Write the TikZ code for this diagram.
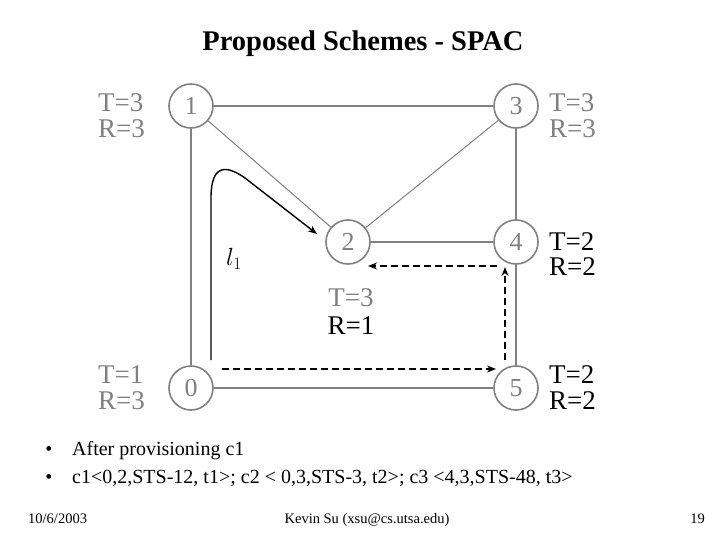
\documentclass[tikz,border=0pt]{standalone}
\usepackage{fontspec}
\setmainfont{Liberation Serif}
\usetikzlibrary{arrows.meta}
\definecolor{eg}{RGB}{128,128,128}
\begin{document}
\begin{tikzpicture}[x=1pt,y=-1pt,
  nd/.style={circle,draw=eg,line width=1.6pt,minimum size=44pt,inner sep=0pt,text=eg,font=\fontsize{26}{26}\selectfont},
  edge/.style={draw=eg,line width=2pt},
  thinedge/.style={draw=eg,line width=1pt},
  lbl/.style={inner sep=0pt,anchor=base west,font=\fontsize{27}{27}\selectfont},
  glbl/.style={lbl,text=eg},
  route/.style={black,line width=1.4pt,-{Stealth[length=9pt,width=7pt]}},
  droute/.style={route,dash pattern=on 7pt off 4pt},
  txt/.style={inner sep=0pt,anchor=base west,font=\fontsize{20}{20}\selectfont},
  foot/.style={inner sep=0pt,font=\fontsize{14.5}{14.5}\selectfont}
]
\useasboundingbox (0,0) rectangle (720,540);
\fill[white] (0,0) rectangle (720,540);

% title
\node[inner sep=0pt,anchor=base,font=\fontsize{28.5}{28.5}\selectfont\bfseries] (title) at (363,51) {Proposed Schemes - SPAC};

% nodes
\node[nd] (n1) at (191,106) {1};
\node[nd] (n3) at (516,106) {3};
\node[nd] (n2) at (348,242) {2};
\node[nd] (n4) at (516,242) {4};
\node[nd] (n0) at (191,388) {0};
\node[nd] (n5) at (516,388) {5};

% edges
\draw[edge] (n1) -- (n3);
\draw[edge] (n1) -- (n0);
\draw[edge] (n3) -- (n4);
\draw[edge] (n2) -- (n4);
\draw[edge] (n4) -- (n5);
\draw[edge] (n0) -- (n5);
\draw[thinedge] (n1) -- (n2);
\draw[thinedge] (n3) -- (n2);

% labels
\node[glbl] (t1) at (98,112) {T=3};
\node[glbl] (r1) at (98,138) {R=3};
\node[glbl] (t3) at (549,112) {T=3};
\node[glbl] (r3) at (549,138) {R=3};
\node[lbl] (t4) at (549,250) {T=2};
\node[lbl] (r4) at (549,275) {R=2};
\node[lbl] (t5) at (549,383) {T=2};
\node[lbl] (r5) at (549,409) {R=2};
\node[glbl] (t0) at (98,383) {T=1};
\node[glbl] (r0) at (98,409) {R=3};
\node[glbl,anchor=base] (t2) at (351,306) {T=3};
\node[lbl,anchor=base] (r2) at (351,334) {R=1};

% lightpath l1
\coordinate (a0) at (211,360);
\coordinate (a1) at (211,198);
\coordinate (a2) at (245,178);
\coordinate (a3) at (317,234);
\draw[route] (a0) -- (a1) .. controls (211,162) and (228,166) .. (a2) -- (a3);
\node[inner sep=0pt,font=\fontsize{27}{27}\selectfont] (l1) at (234,259) {$l_1$};

% dashed routes
\coordinate (b0) at (222,369);
\coordinate (b1) at (496,369);
\draw[droute] (b0) -- (b1);
\coordinate (c0) at (505,360);
\coordinate (c1) at (505,267);
\draw[droute] (c0) -- (c1);
\coordinate (d0) at (497,266);
\coordinate (d1) at (368,266);
\draw[droute] (d0) -- (d1);

% bullets
\node[txt,anchor=base] (bu1) at (49,455) {\textbullet};
\node[txt] (tx1) at (72,455) {After provisioning c1};
\node[txt,anchor=base] (bu2) at (49,483) {\textbullet};
\node[txt] (tx2) at (72,483) {c1<0,2,STS-12, t1>; c2 < 0,3,STS-3, t2>; c3 <4,3,STS-48, t3>};

% footer
\node[foot,anchor=base west] (f1) at (28,523) {10/6/2003};
\node[foot,anchor=base] (f2) at (367,523) {Kevin Su (xsu@cs.utsa.edu)};
\node[foot,anchor=base east] (f3) at (705,523) {19};
\end{tikzpicture}
\end{document}
